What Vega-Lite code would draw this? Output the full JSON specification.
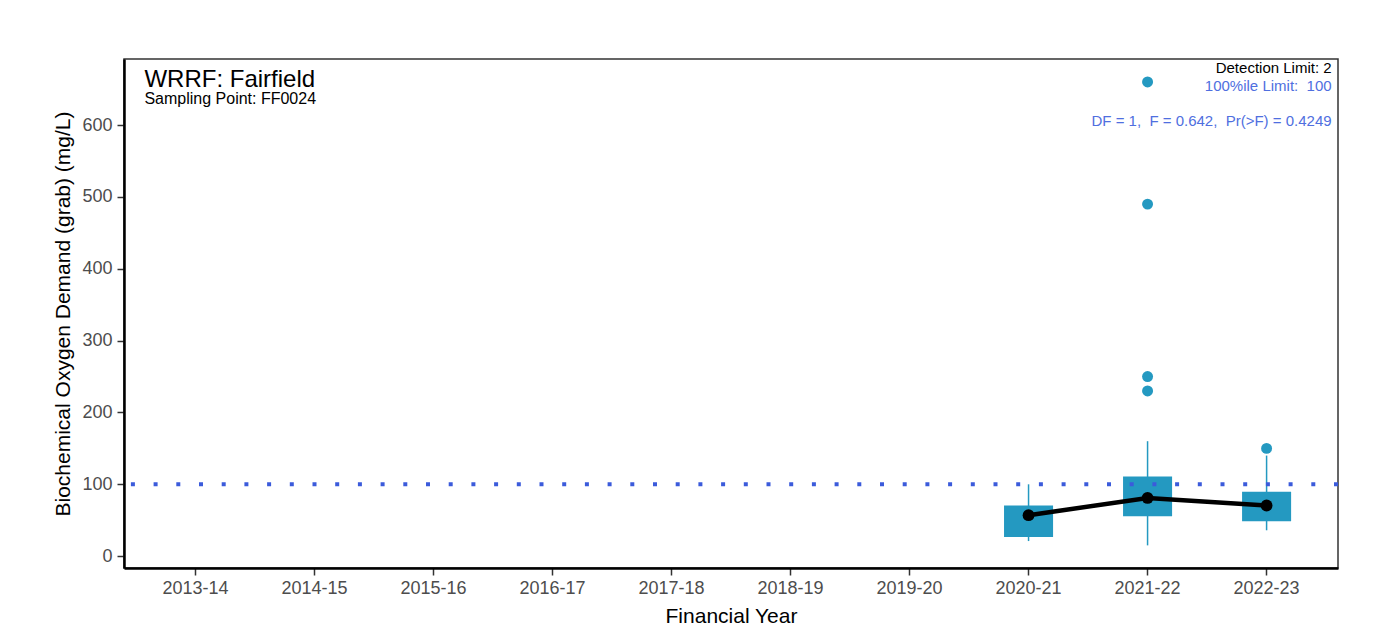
{
  "$schema": "https://vega.github.io/schema/vega-lite/v6.json",
  "width": 1214,
  "height": 509,
  "autosize": {"type": "none"},
  "padding": {"left": 124, "top": 59, "right": 53, "bottom": 74},
  "background": "white",
  "config": {
    "font": "Liberation Sans",
    "view": {"stroke": "#333333", "strokeWidth": 1.5},
    "axis": {
      "grid": false,
      "domainColor": "black",
      "domainWidth": 2.5,
      "tickColor": "#333333",
      "tickWidth": 1.5,
      "tickSize": 7,
      "labelColor": "#4D4D4D",
      "labelFontSize": 18,
      "titleColor": "black",
      "titleFontSize": 21,
      "titleFontWeight": "normal"
    }
  },
  "datasets": {
    "stats": [
      {"year": "2020-21", "lo": 21, "q1": 26.5, "q3": 70.6, "hi": 100, "mean": 57},
      {"year": "2021-22", "lo": 15, "q1": 55.7, "q3": 111, "hi": 160, "mean": 81},
      {"year": "2022-23", "lo": 36, "q1": 48.7, "q3": 89.7, "hi": 140, "mean": 70.5}
    ],
    "outliers": [
      {"year": "2021-22", "value": 660},
      {"year": "2021-22", "value": 490},
      {"year": "2021-22", "value": 250},
      {"year": "2021-22", "value": 230},
      {"year": "2022-23", "value": 150}
    ]
  },
  "layer": [
    {
      "data": {"name": "stats"},
      "mark": {"type": "rule", "color": "#2499C1", "strokeWidth": 1.5},
      "encoding": {
        "x": {
          "field": "year",
          "type": "nominal",
          "scale": {
            "type": "band",
            "domain": ["2013-14", "2014-15", "2015-16", "2016-17", "2017-18", "2018-19", "2019-20", "2020-21", "2021-22", "2022-23"],
            "paddingInner": 0.588,
            "paddingOuter": 0.394
          },
          "title": "Financial Year",
          "axis": {"labelAngle": 0, "labelPadding": 4, "titlePadding": 8}
        },
        "y": {
          "field": "lo",
          "type": "quantitative",
          "title": "Biochemical Oxygen Demand (grab) (mg/L)",
          "scale": {"domain": [-16.5, 692], "nice": false, "zero": false},
          "axis": {"values": [0, 100, 200, 300, 400, 500, 600], "labelPadding": 5, "titlePadding": 8}
        },
        "y2": {"field": "hi"}
      }
    },
    {
      "data": {"name": "stats"},
      "mark": {"type": "bar", "color": "#2499C1", "opacity": 1},
      "encoding": {
        "x": {"field": "year", "type": "nominal", "title": "Financial Year"},
        "y": {"field": "q1", "type": "quantitative", "title": "Biochemical Oxygen Demand (grab) (mg/L)"},
        "y2": {"field": "q3"}
      }
    },
    {
      "data": {"name": "outliers"},
      "mark": {"type": "point", "filled": true, "opacity": 1, "color": "#2499C1", "size": 120},
      "encoding": {
        "x": {"field": "year", "type": "nominal", "title": "Financial Year"},
        "y": {"field": "value", "type": "quantitative", "title": "Biochemical Oxygen Demand (grab) (mg/L)"}
      }
    },
    {
      "data": {"values": [{"limit": 100}]},
      "mark": {"type": "rule", "color": "#3B5BDB", "strokeWidth": 4, "strokeDash": [4, 18.7]},
      "encoding": {"y": {"field": "limit", "type": "quantitative", "title": "Biochemical Oxygen Demand (grab) (mg/L)"}}
    },
    {
      "data": {"name": "stats"},
      "mark": {"type": "line", "color": "black", "strokeWidth": 4.5},
      "encoding": {
        "x": {"field": "year", "type": "nominal", "title": "Financial Year"},
        "y": {"field": "mean", "type": "quantitative", "title": "Biochemical Oxygen Demand (grab) (mg/L)"}
      }
    },
    {
      "data": {"name": "stats"},
      "mark": {"type": "point", "filled": true, "opacity": 1, "color": "black", "size": 140},
      "encoding": {
        "x": {"field": "year", "type": "nominal", "title": "Financial Year"},
        "y": {"field": "mean", "type": "quantitative", "title": "Biochemical Oxygen Demand (grab) (mg/L)"}
      }
    },
    {
      "data": {"values": [{"label": "WRRF: Fairfield"}]},
      "mark": {"type": "text", "align": "left", "baseline": "alphabetic", "dx": -51, "fontSize": 24, "color": "black"},
      "encoding": {
        "x": {"datum": "2013-14", "title": "Financial Year"},
        "y": {"datum": 653, "type": "quantitative", "title": "Biochemical Oxygen Demand (grab) (mg/L)"},
        "text": {"field": "label"}
      }
    },
    {
      "data": {"values": [{"label": "Sampling Point: FF0024"}]},
      "mark": {"type": "text", "align": "left", "baseline": "alphabetic", "dx": -51, "fontSize": 16, "color": "black"},
      "encoding": {
        "x": {"datum": "2013-14", "title": "Financial Year"},
        "y": {"datum": 629.5, "type": "quantitative", "title": "Biochemical Oxygen Demand (grab) (mg/L)"},
        "text": {"field": "label"}
      }
    },
    {
      "data": {"values": [{"label": "Detection Limit: 2"}]},
      "mark": {"type": "text", "align": "right", "baseline": "alphabetic", "dx": 65, "fontSize": 15, "color": "black"},
      "encoding": {
        "x": {"datum": "2022-23", "title": "Financial Year"},
        "y": {"datum": 673, "type": "quantitative", "title": "Biochemical Oxygen Demand (grab) (mg/L)"},
        "text": {"field": "label"}
      }
    },
    {
      "data": {"values": [{"label": "100%ile Limit:\u00a0 100"}]},
      "mark": {"type": "text", "align": "right", "baseline": "alphabetic", "dx": 65, "fontSize": 15, "color": "#4F6FE0"},
      "encoding": {
        "x": {"datum": "2022-23", "title": "Financial Year"},
        "y": {"datum": 647.4, "type": "quantitative", "title": "Biochemical Oxygen Demand (grab) (mg/L)"},
        "text": {"field": "label"}
      }
    },
    {
      "data": {"values": [{"label": "DF = 1,\u00a0 F = 0.642,\u00a0 Pr(>F) = 0.4249"}]},
      "mark": {"type": "text", "align": "right", "baseline": "alphabetic", "dx": 65, "fontSize": 15, "color": "#4F6FE0"},
      "encoding": {
        "x": {"datum": "2022-23", "title": "Financial Year"},
        "y": {"datum": 598.6, "type": "quantitative", "title": "Biochemical Oxygen Demand (grab) (mg/L)"},
        "text": {"field": "label"}
      }
    }
  ]
}
